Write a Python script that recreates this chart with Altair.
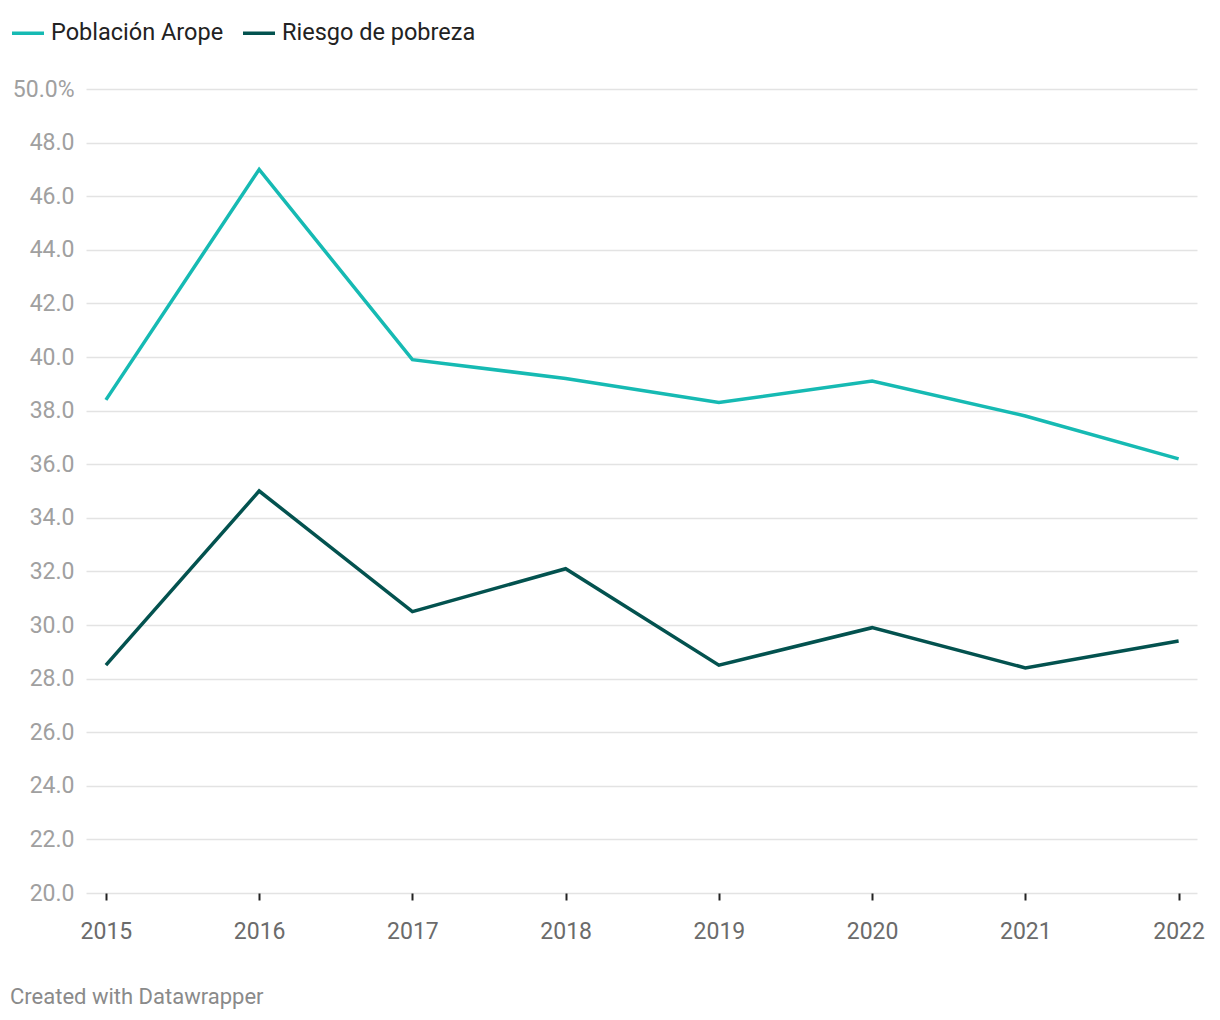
import altair as alt
import pandas as pd

years = [2015, 2016, 2017, 2018, 2019, 2020, 2021, 2022]
arope = [38.4, 47.0, 39.9, 39.2, 38.3, 39.1, 37.8, 36.2]
riesgo = [28.5, 35.0, 30.5, 32.1, 28.5, 29.9, 28.4, 29.4]
series_names = ["Población Arope", "Riesgo de pobreza"]
series_colors = ["#16bab3", "#03524f"]
y_ticks = list(range(20, 51, 2))
footer = "Created with Datawrapper"

rows = []
for y, a, r in zip(years, arope, riesgo):
    rows.append({"year": y, "serie": series_names[0], "value": a})
    rows.append({"year": y, "serie": series_names[1], "value": r})
df = pd.DataFrame(rows)

W, H = 1111, 804
FONT = "Roboto"

lines = alt.Chart(df).mark_line(strokeWidth=3.5).encode(
    x=alt.X("year:Q",
            scale=alt.Scale(domain=[2014.87, 2022.12], nice=False, zero=False),
            axis=alt.Axis(values=years, format="d", title=None, grid=False,
                          domain=False, ticks=True, tickColor="#222222",
                          tickSize=7, tickWidth=2, labelFontSize=23,
                          labelColor="#6b6b6b", labelFont=FONT, labelPadding=20)),
    y=alt.Y("value:Q",
            scale=alt.Scale(domain=[20, 50], nice=False, zero=False),
            axis=alt.Axis(values=y_ticks, title=None, grid=True,
                          gridColor="#e3e3e3", gridWidth=1.5, domain=False,
                          ticks=False, labelFontSize=23, labelColor="#a0a0a0",
                          labelFont=FONT, labelPadding=12,
                          labelExpr="datum.value == 50 ? '50.0%' : format(datum.value, '.1f')")),
    color=alt.Color("serie:N",
                    scale=alt.Scale(domain=series_names, range=series_colors),
                    legend=alt.Legend(title=None, orient="none", direction="horizontal",
                                      legendX=-76, legendY=-74,
                                      symbolType="stroke", symbolStrokeWidth=3.5,
                                      symbolSize=1024, labelFontSize=23.5,
                                      labelColor="#222222", labelFont=FONT,
                                      labelOffset=5, columnPadding=12, labelLimit=0)),
)

foot = alt.Chart(pd.DataFrame({"t": [footer]})).mark_text(
    align="left", baseline="middle", fontSize=22, color="#8a8a8a", font=FONT
).encode(x=alt.value(-76), y=alt.value(H + 104), text="t:N")

chart = alt.layer(lines, foot).properties(
    width=W, height=H,
    padding={"left": 2, "top": 7, "right": 5, "bottom": 5},
).configure_view(stroke=None)

chart.save("out.html", embed_options={"renderer": "svg", "actions": False})
